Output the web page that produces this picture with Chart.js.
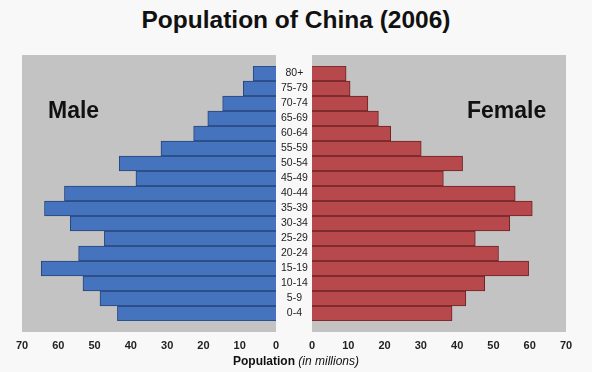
<!DOCTYPE html>
<html>
<head>
<meta charset="utf-8">
<script src="https://cdn.jsdelivr.net/npm/chart.js@4"></script>
<style>
  body { margin: 0; background: #f8f8f8; font-family: "Liberation Sans", Arial, sans-serif; }
  #wrap { position: relative; width: 592px; height: 372px; overflow: hidden; }
  canvas { position: absolute; top: 0; }
  .txt { position: absolute; color: #111; white-space: nowrap; }
</style>
</head>
<body>
<div id="wrap">
  <div class="txt" style="left:0;width:592px;top:6px;text-align:center;font-weight:bold;font-size:24.5px;">Population of China (2006)</div>
  <canvas id="grafico_homens" style="left:0"></canvas>
  <canvas id="grafico_mulheres" style="left:302px"></canvas>
  <div class="txt" style="left:48px;top:97px;font-weight:bold;font-size:23px;">Male</div>
  <div class="txt" style="left:467px;top:97px;font-weight:bold;font-size:23px;">Female</div>
  <div class="txt" style="left:0;width:592px;top:354px;text-align:center;font-size:12px;">
    <b>Population</b> <i>(in millions)</i>
  </div>
</div>
<script>
const faixas = ['0-4', '5-9', '10-14', '15-19', '20-24', '25-29', '30-34', '35-39', '40-44',
  '45-49', '50-54', '55-59', '60-64', '65-69', '70-74', '75-79', '80+']
const homens = [43.7, 48.5, 53.2, 64.7, 54.4, 47.3, 56.7, 63.8, 58.3, 38.6, 43.2, 31.7, 22.7, 18.8, 14.7, 9.0, 6.3]
const mulheres = [38.6, 42.4, 47.6, 59.7, 51.4, 45.0, 54.5, 60.7, 56.0, 36.2, 41.5, 30.1, 21.7, 18.3, 15.4, 10.5, 9.4]
const ticks_x = [0, 10, 20, 30, 40, 50, 60, 70]

const azul = '#4673bd'
const azul_borda = '#27457a'
const vermelho = '#b7484b'
const vermelho_borda = '#6e2224'
const cinza = '#c3c3c3'

// fundo cinza um pouco maior que a area das barras
const fundo = {
    id: 'fundo',
    beforeDraw(chart) {
        const a = chart.chartArea
        const ctx = chart.ctx
        ctx.save()
        ctx.fillStyle = cinza
        ctx.fillRect(a.left, a.top - 11, a.right - a.left, a.bottom - a.top + 22)
        ctx.restore()
    }
}

function eixo_x(reverso) {
    return {
        type: 'linear',
        min: 0,
        max: 70,
        reverse: reverso,
        afterBuildTicks: (s) => { s.ticks = ticks_x.map(v => ({ value: v })) },
        afterFit: (s) => { s.height = 51 },
        grid: { display: false, drawTicks: true, tickLength: 15 },
        border: { display: false },
        ticks: {
            padding: 3,
            color: '#222',
            font: { family: 'Liberation Sans', size: 11, weight: 'bold' }
        }
    }
}

function config(valores, cor, borda, reverso, padding, eixo_y) {
    return {
        type: 'bar',
        data: {
            labels: faixas,
            datasets: [{
                data: valores,
                backgroundColor: cor,
                borderColor: borda,
                borderWidth: 1,
                barPercentage: 1,
                categoryPercentage: 1
            }]
        },
        options: {
            indexAxis: 'y',
            responsive: false,
            animation: false,
            layout: { padding: padding },
            plugins: { legend: { display: false }, tooltip: { enabled: false } },
            scales: { x: eixo_x(reverso), y: eixo_y }
        },
        plugins: [fundo]
    }
}

const canvas_h = document.querySelector('#grafico_homens')
canvas_h.width = 312; canvas_h.height = 372
const canvas_m = document.querySelector('#grafico_mulheres')
canvas_m.width = 290; canvas_m.height = 372

const myChart_homens = new Chart(canvas_h, config(homens, azul, azul_borda, true,
    { left: 22, top: 66, right: 0, bottom: 0 },
    {
        reverse: true,
        position: 'right',
        afterFit: (s) => { s.width = 36 },
        grid: { display: false, drawTicks: false },
        border: { display: false },
        ticks: {
            autoSkip: false,
            crossAlign: 'center',
            padding: 5,
            color: '#222',
            font: { family: 'Liberation Sans', size: 10.5 }
        }
    }))

const myChart_mulheres = new Chart(canvas_m, config(mulheres, vermelho, vermelho_borda, false,
    { left: 10, top: 66, right: 26, bottom: 0 },
    { reverse: true, display: false }))
</script>
</body>
</html>
